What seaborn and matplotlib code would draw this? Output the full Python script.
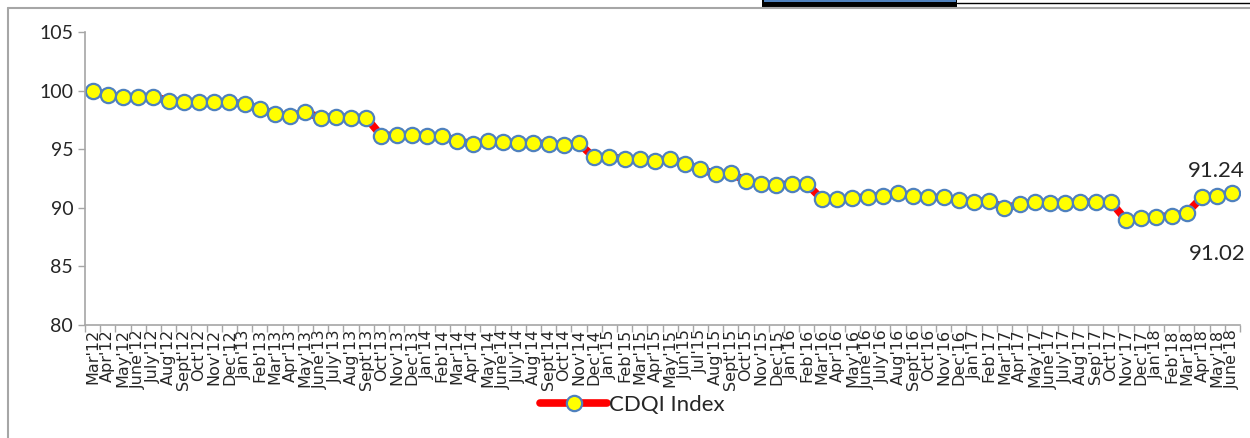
import matplotlib
matplotlib.use("Agg")
import matplotlib.pyplot as plt
import seaborn as sns
import pandas as pd
import numpy as np
from matplotlib.lines import Line2D
from matplotlib.patches import Rectangle

# months on the x axis
months = ["Mar'12", "Apr'12", "May'12", "June'12", "July'12", "Aug'12", "Sept'12", "Oct'12", "Nov'12", "Dec'12",
          "Jan'13", "Feb'13", "Mar'13", "Apr'13", "May'13", "June'13", "July'13", "Aug'13", "Sept'13", "Oct'13",
          "Nov'13", "Dec'13", "Jan'14", "Feb'14", "Mar'14", "Apr'14", "May'14", "June'14", "July'14", "Aug'14",
          "Sept'14", "Oct'14", "Nov'14", "Dec'14", "Jan'15", "Feb'15", "Mar'15", "Apr'15", "May'15", "Jun'15",
          "Jul'15", "Aug'15", "Sept'15", "Oct'15", "Nov'15", "Dec'15", "Jan'16", "Feb'16", "Mar'16", "Apr'16",
          "May'16", "June'16", "July'16", "Aug'16", "Sept'16", "Oct'16", "Nov'16", "Dec'16", "Jan'17", "Feb'17",
          "Mar'17", "Apr'17", "May'17", "June'17", "July'17", "Aug'17", "Sep'17", "Oct'17", "Nov'17", "Dec'17",
          "Jan'18", "Feb'18", "Mar'18", "Apr'18", "May'18", "June'18"]

# CDQI index values
cdqi = [100.0, 99.6, 99.45, 99.48, 99.48, 99.14, 99.05, 99.05, 99.0, 99.0,
        98.86, 98.43, 98.0, 97.86, 98.14, 97.7, 97.77, 97.7, 97.69, 96.15,
        96.21, 96.2, 96.13, 96.1, 95.73, 95.44, 95.67, 95.58, 95.56, 95.55,
        95.44, 95.36, 95.5, 94.3, 94.36, 94.16, 94.16, 94.02, 94.2, 93.74,
        93.28, 92.88, 92.94, 92.29, 92.0, 91.95, 92.03, 92.03, 90.72, 90.72,
        90.8, 90.95, 91.03, 91.23, 91.03, 90.89, 90.89, 90.67, 90.53, 90.6,
        89.95, 90.32, 90.46, 90.44, 90.44, 90.46, 90.5, 90.5, 88.96, 89.1,
        89.24, 89.3, 89.58, 90.9, 91.02, 91.24]

yticks = [80, 85, 90, 95, 100, 105]

df = pd.DataFrame({"month": months, "CDQI Index": cdqi})

sns.set_style("white")
plt.rcParams["font.family"] = ["Lato", "DejaVu Sans"]

fig = plt.figure(figsize=(12.5, 4.38), dpi=100)
ax = fig.add_axes([85 / 1250, 1 - 325 / 438, 1155 / 1250, 293 / 438])

sns.lineplot(data=df, x="month", y="CDQI Index", sort=False, ax=ax,
             color="#ff0000", linewidth=5.5, marker="o", markersize=11,
             markerfacecolor="#ffff00", markeredgecolor="#4f81bd",
             markeredgewidth=1.6, label="CDQI Index")

ax.set_xlim(-0.5, len(months) - 0.5)
ax.set_ylim(80, 105)
ax.set_yticks(yticks)
ax.set_xlabel("")
ax.set_ylabel("")

ax.set_xticks(range(len(months)))
ax.set_xticklabels(months, rotation=90, fontsize=11.5, family="DejaVu Sans")
ax.set_xticks(np.arange(-0.5, len(months)), minor=True)
ax.tick_params(axis="x", which="major", length=0, pad=3)
ax.tick_params(axis="x", which="minor", length=5, color="#a6a6a6", width=1, direction="out", bottom=True)
ax.tick_params(axis="y", length=5, color="#a6a6a6", width=1, direction="out", left=True, labelsize=14)

for s in ["top", "right"]:
    ax.spines[s].set_visible(False)
for s in ["left", "bottom"]:
    ax.spines[s].set_color("#a6a6a6")
    ax.spines[s].set_linewidth(1.2)

# value labels for the last two months
ax.annotate(f"{cdqi[-1]:.2f}", xy=(len(months) - 1, cdqi[-1]), xytext=(-16, 22),
            textcoords="offset pixels", ha="center", va="center", fontsize=16)
ax.annotate(f"{cdqi[-2]:.2f}", xy=(len(months) - 2, cdqi[-2]), xytext=(0, -58),
            textcoords="offset pixels", ha="center", va="center", fontsize=16)

ax.get_legend().remove()
fig.legend(loc="center", bbox_to_anchor=(0.506, 0.075), frameon=False, fontsize=16,
           handlelength=3.0, handletextpad=0.1, borderpad=0)

# chart area border and table fragment at top
fig.add_artist(Line2D([8 / 1250, 1], [1 - 8 / 438] * 2, transform=fig.transFigure, color="#a6a6a6", lw=1.5))
fig.add_artist(Line2D([8 / 1250] * 2, [0, 1 - 8 / 438], transform=fig.transFigure, color="#a6a6a6", lw=1.5))
fig.add_artist(Rectangle((762 / 1250, 1 - 7 / 438), 195 / 1250, 7 / 438, transform=fig.transFigure,
                         color="black", lw=0))
fig.add_artist(Rectangle((764 / 1250, 1 - 2 / 438), 192 / 1250, 2 / 438, transform=fig.transFigure,
                         color="#4f81bd", lw=0))
fig.add_artist(Line2D([957 / 1250, 1], [1 - 3 / 438] * 2, transform=fig.transFigure, color="black", lw=1))

fig.savefig("out.png", dpi=100)
